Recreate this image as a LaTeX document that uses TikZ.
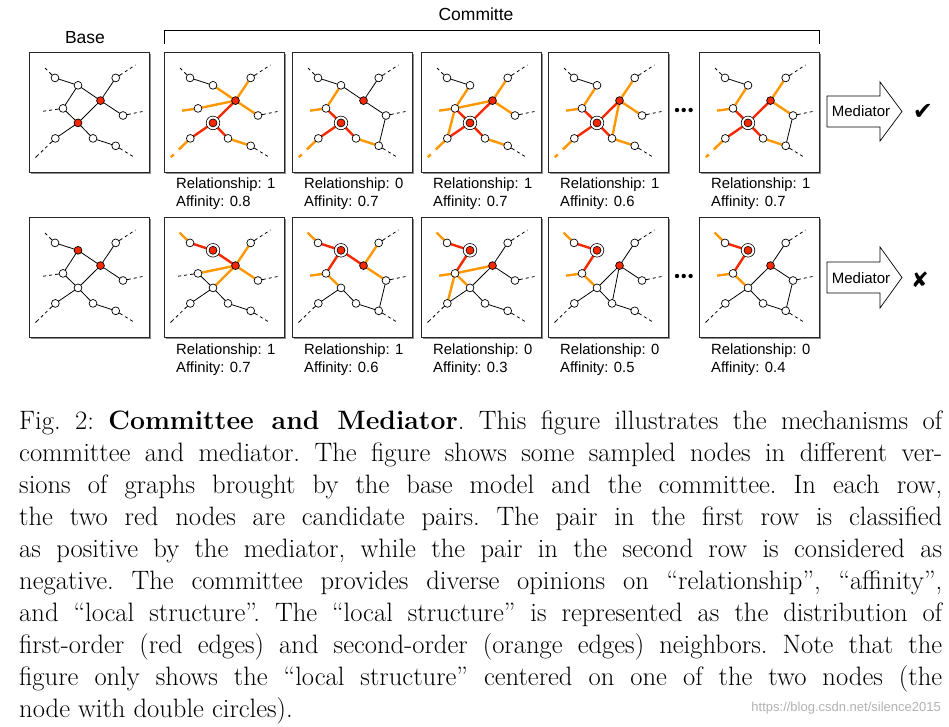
\documentclass[tikz,border=0pt]{standalone}
\usepackage{fontspec}
\newfontfamily\lab{Liberation Sans}
\newfontfamily\sym{DejaVu Sans}
\definecolor{rd}{RGB}{245,40,0}
\definecolor{org}{RGB}{255,152,0}
\pgfdeclarelayer{bglayer}
\pgfdeclarelayer{edgelayer}
\pgfsetlayers{bglayer,edgelayer,main}
\tikzset{
 wn/.style={circle,draw=black,fill=white,line width=0.7pt,minimum size=7.8pt,inner sep=0pt},
 rn/.style={wn,fill=rd},
 dn/.style={circle,draw=black,fill=white,line width=0.6pt,minimum size=13.6pt,inner sep=0pt,
   path picture={\fill[rd,draw=black,line width=0.6pt] (path picture bounding box.center) circle (4pt);}},
 eblk/.style={black,line width=0.8pt},
 eorg/.style={org,line width=2.4pt},
 ered/.style={rd,line width=2.4pt},
 sblk/.style={black,line width=0.8pt,dash pattern=on 8pt off 3pt on 3pt off 3pt on 3pt off 3pt},
 sorg/.style={org,line width=2.4pt,dash pattern=on 16pt off 7pt on 4pt off 40pt},
 boxline/.style={draw=black!85,line width=0.9pt},
 boxshadow/.style={draw=black!45,line width=1.4pt},
 lbl/.style={font={\lab\fontsize{14.8}{17}\selectfont},inner sep=0pt,anchor=base west},
 ttl/.style={font={\lab\fontsize{17.5}{20}\selectfont},inner sep=0pt,anchor=base},
 medtxt/.style={font={\lab\fontsize{15}{18}\selectfont},inner sep=0pt},
 arrowshape/.style={draw=black,line width=0.7pt,fill=white},
}
\newcommand{\graphpanel}[6]{%
\begin{scope}[shift={(#2,#3)}]
\draw[boxshadow] (121.2,2) -- (121.2,121.2) -- (2,121.2);
\draw[boxline] (0,0) rectangle (120,120);
\node[wn] (#1A) at (26,25.9) {};
\node[#4] (#1B) at (49,33.3) {};
\node[#5] (#1C) at (71.5,48.6) {};
\node[wn] (#1D) at (86.7,25.9) {};
\node[wn] (#1E) at (34,56.4) {};
\node[#6] (#1F) at (49,70.9) {};
\node[wn] (#1G) at (94,63.5) {};
\node[wn] (#1H) at (26.3,86.4) {};
\node[wn] (#1I) at (64,86.4) {};
\node[wn] (#1J) at (86.7,93.8) {};
\coordinate (#1a) at (15.5,15.5);
\coordinate (#1d) at (106.5,13);
\coordinate (#1e) at (13.5,59.3);
\coordinate (#1g) at (113.5,59.5);
\coordinate (#1h) at (6.5,105.5);
\coordinate (#1j) at (104,104.5);
\end{scope}}
\newcommand{\gedges}[2]{\begin{pgfonlayer}{edgelayer}\foreach \u/\v/\s in {#2}{\draw[\s] (#1\u.center) -- (#1\v.center);}\end{pgfonlayer}}
\newcommand{\plabels}[5]{%
\node[lbl] (#1rl) at ({#2+12},#3) {Relationship: #4};
\node[lbl] (#1af) at ({#2+12},{#3+18}) {Affinity: #5};}
\begin{document}
\begin{tikzpicture}[x=1pt,y=-1pt]
\useasboundingbox (0,0) rectangle (949,726);
\begin{pgfonlayer}{bglayer}
\fill[white] (0,0) rectangle (949,726);
\end{pgfonlayer}
% titles
\node[ttl] (committe) at (476,20.5) {Committe};
\node[ttl] (basettl) at (85,43.5) {Base};
\draw[line width=0.8pt] (164,44) -- (164,30) -- (819,30) -- (819,44);
% row 1
\graphpanel{a}{29}{52}{wn}{rn}{rn}
\graphpanel{b}{164}{52}{wn}{rn}{dn}
\graphpanel{c}{292}{52}{wn}{rn}{dn}
\graphpanel{d}{421}{52}{wn}{rn}{dn}
\graphpanel{e}{548}{52}{wn}{rn}{dn}
\graphpanel{f}{699}{52}{wn}{rn}{dn}
\gedges{a}{A/B/eblk,B/C/eblk,B/E/eblk,C/D/eblk,C/G/eblk,C/F/eblk,E/F/eblk,F/H/eblk,F/I/eblk,I/J/eblk,A/a/sblk,D/d/sblk,E/e/sblk,G/g/sblk,H/h/sblk,J/j/sblk}
\gedges{b}{A/B/eblk,B/C/eorg,C/D/eorg,C/G/eorg,E/C/eorg,C/F/ered,F/H/ered,F/I/ered,I/J/eorg,A/a/sblk,D/d/sblk,G/g/sblk,E/e/sorg,H/h/sorg,J/j/sblk}
\gedges{c}{A/B/eblk,B/C/eblk,C/D/eblk,C/G/eblk,G/J/eblk,B/E/eorg,E/F/ered,F/H/ered,F/I/ered,I/J/eorg,A/a/sblk,D/d/sblk,G/g/sblk,E/e/sorg,H/h/sorg,J/j/sblk}
\gedges{d}{A/B/eblk,B/E/eorg,E/C/eorg,E/F/ered,E/H/eorg,C/F/ered,C/D/eorg,C/G/eorg,F/H/ered,F/I/ered,I/J/eorg,A/a/sblk,D/d/sblk,G/g/sblk,E/e/sorg,H/h/sorg,J/j/sblk}
\gedges{e}{A/B/eblk,B/E/eorg,E/F/ered,C/F/ered,C/D/eorg,C/G/eorg,C/I/eorg,F/H/ered,F/I/ered,I/J/eorg,A/a/sblk,D/d/sblk,G/g/sblk,E/e/sorg,H/h/sorg,J/j/sblk}
\gedges{f}{A/B/eblk,B/E/eorg,E/F/ered,C/F/ered,C/D/eorg,C/G/eorg,G/J/eblk,F/H/ered,F/I/ered,I/J/eorg,A/a/sblk,D/d/sblk,G/g/sblk,E/e/sorg,H/h/sorg,J/j/sblk}
\plabels{b}{164}{188.5}{1}{0.8}
\plabels{c}{292}{188.5}{0}{0.7}
\plabels{d}{421}{188.5}{1}{0.7}
\plabels{e}{548}{188.5}{1}{0.6}
\plabels{f}{699}{188.5}{1}{0.7}
% row 2
\graphpanel{g}{29}{217}{rn}{rn}{wn}
\graphpanel{h}{164}{217}{dn}{rn}{wn}
\graphpanel{i}{292}{217}{dn}{rn}{wn}
\graphpanel{j}{421}{217}{dn}{rn}{wn}
\graphpanel{k}{548}{217}{dn}{rn}{wn}
\graphpanel{l}{699}{217}{dn}{rn}{wn}
\gedges{g}{A/B/eblk,B/C/eblk,B/E/eblk,C/D/eblk,C/G/eblk,C/F/eblk,E/F/eblk,F/H/eblk,F/I/eblk,I/J/eblk,A/a/sblk,D/d/sblk,E/e/sblk,G/g/sblk,H/h/sblk,J/j/sblk}
\gedges{h}{A/B/ered,B/C/ered,C/D/eorg,C/G/eorg,C/E/eorg,C/F/eorg,E/F/eblk,F/H/eblk,F/I/eblk,I/J/eblk,A/a/sorg,D/d/sblk,G/g/sblk,E/e/sblk,H/h/sblk,J/j/sblk}
\gedges{i}{A/B/ered,B/C/ered,B/E/ered,E/F/eorg,C/D/eorg,C/G/eorg,G/J/eblk,F/H/eblk,F/I/eblk,I/J/eblk,A/a/sorg,E/e/sorg,D/d/sblk,G/g/sblk,H/h/sblk,J/j/sblk}
\gedges{j}{A/B/ered,B/E/ered,E/C/eorg,E/H/eorg,E/F/eorg,C/D/eblk,C/G/eblk,C/F/eblk,F/H/eblk,F/I/eblk,I/J/eblk,A/a/sorg,E/e/sorg,D/d/sblk,G/g/sblk,H/h/sblk,J/j/sblk}
\gedges{k}{A/B/ered,B/E/ered,E/F/eorg,C/D/eblk,C/G/eblk,C/F/eblk,C/I/eblk,F/H/eblk,F/I/eblk,I/J/eblk,A/a/sorg,E/e/sorg,D/d/sblk,G/g/sblk,H/h/sblk,J/j/sblk}
\gedges{l}{A/B/ered,B/E/ered,E/F/eorg,C/D/eblk,C/F/eblk,C/G/eblk,G/J/eblk,F/H/eblk,F/I/eblk,I/J/eblk,A/a/sorg,E/e/sorg,D/d/sblk,G/g/sblk,H/h/sblk,J/j/sblk}
\plabels{h}{164}{354.5}{1}{0.7}
\plabels{i}{292}{354.5}{1}{0.6}
\plabels{j}{421}{354.5}{0}{0.3}
\plabels{k}{548}{354.5}{0}{0.5}
\plabels{l}{699}{354.5}{0}{0.4}
% ellipsis dots
\foreach \yy in {110,276}{\foreach \xx in {677,683.7,690.6}{\fill (\xx,\yy) circle (2.2pt);}}
% mediator arrows
\draw[arrowshape] (827,96) -- (880,96) -- (880,82) -- (902,111.5) -- (880,141) -- (880,127) -- (827,127) -- cycle;
\node[medtxt] (med1) at (861,111.5) {Mediator};
\draw[arrowshape] (827,262) -- (880,262) -- (880,247) -- (902,277.5) -- (880,308) -- (880,293) -- (827,293) -- cycle;
\node[medtxt] (med2) at (861,278) {Mediator};
\node[font={\sym\fontsize{24}{26}\selectfont},inner sep=0pt] (yes) at (923,112) {✔};
\node[font={\sym\fontsize{21}{24}\selectfont},inner sep=0pt] (no) at (920,280) {✘};
% caption
\node[anchor=base west,inner sep=0pt] (caption) at (19,429) {\parbox[t]{923pt}{\fontsize{26.6}{32}\selectfont\frenchspacing
\makebox[923pt][s]{Fig. 2: \textbf{Committee and Mediator}. This figure illustrates the mechanisms of}\\
\makebox[923pt][s]{committee and mediator. The figure shows some sampled nodes in different ver-}\\
\makebox[923pt][s]{sions of graphs brought by the base model and the committee. In each row,}\\
\makebox[923pt][s]{the two red nodes are candidate pairs. The pair in the first row is classified}\\
\makebox[923pt][s]{as positive by the mediator, while the pair in the second row is considered as}\\
\makebox[923pt][s]{negative. The committee provides diverse opinions on ``relationship'', ``affinity'',}\\
\makebox[923pt][s]{and ``local structure''. The ``local structure'' is represented as the distribution of}\\
\makebox[923pt][s]{first-order (red edges) and second-order (orange edges) neighbors. Note that the}\\
\makebox[923pt][s]{figure only shows the ``local structure'' centered on one of the two nodes (the}\\
node with double circles).}};
\node[anchor=base east,inner sep=0pt,text=black!30,font={\lab\fontsize{13}{15}\selectfont}] (wm) at (941,711) {https://blog.csdn.net/silence2015};
\end{tikzpicture}
\end{document}
